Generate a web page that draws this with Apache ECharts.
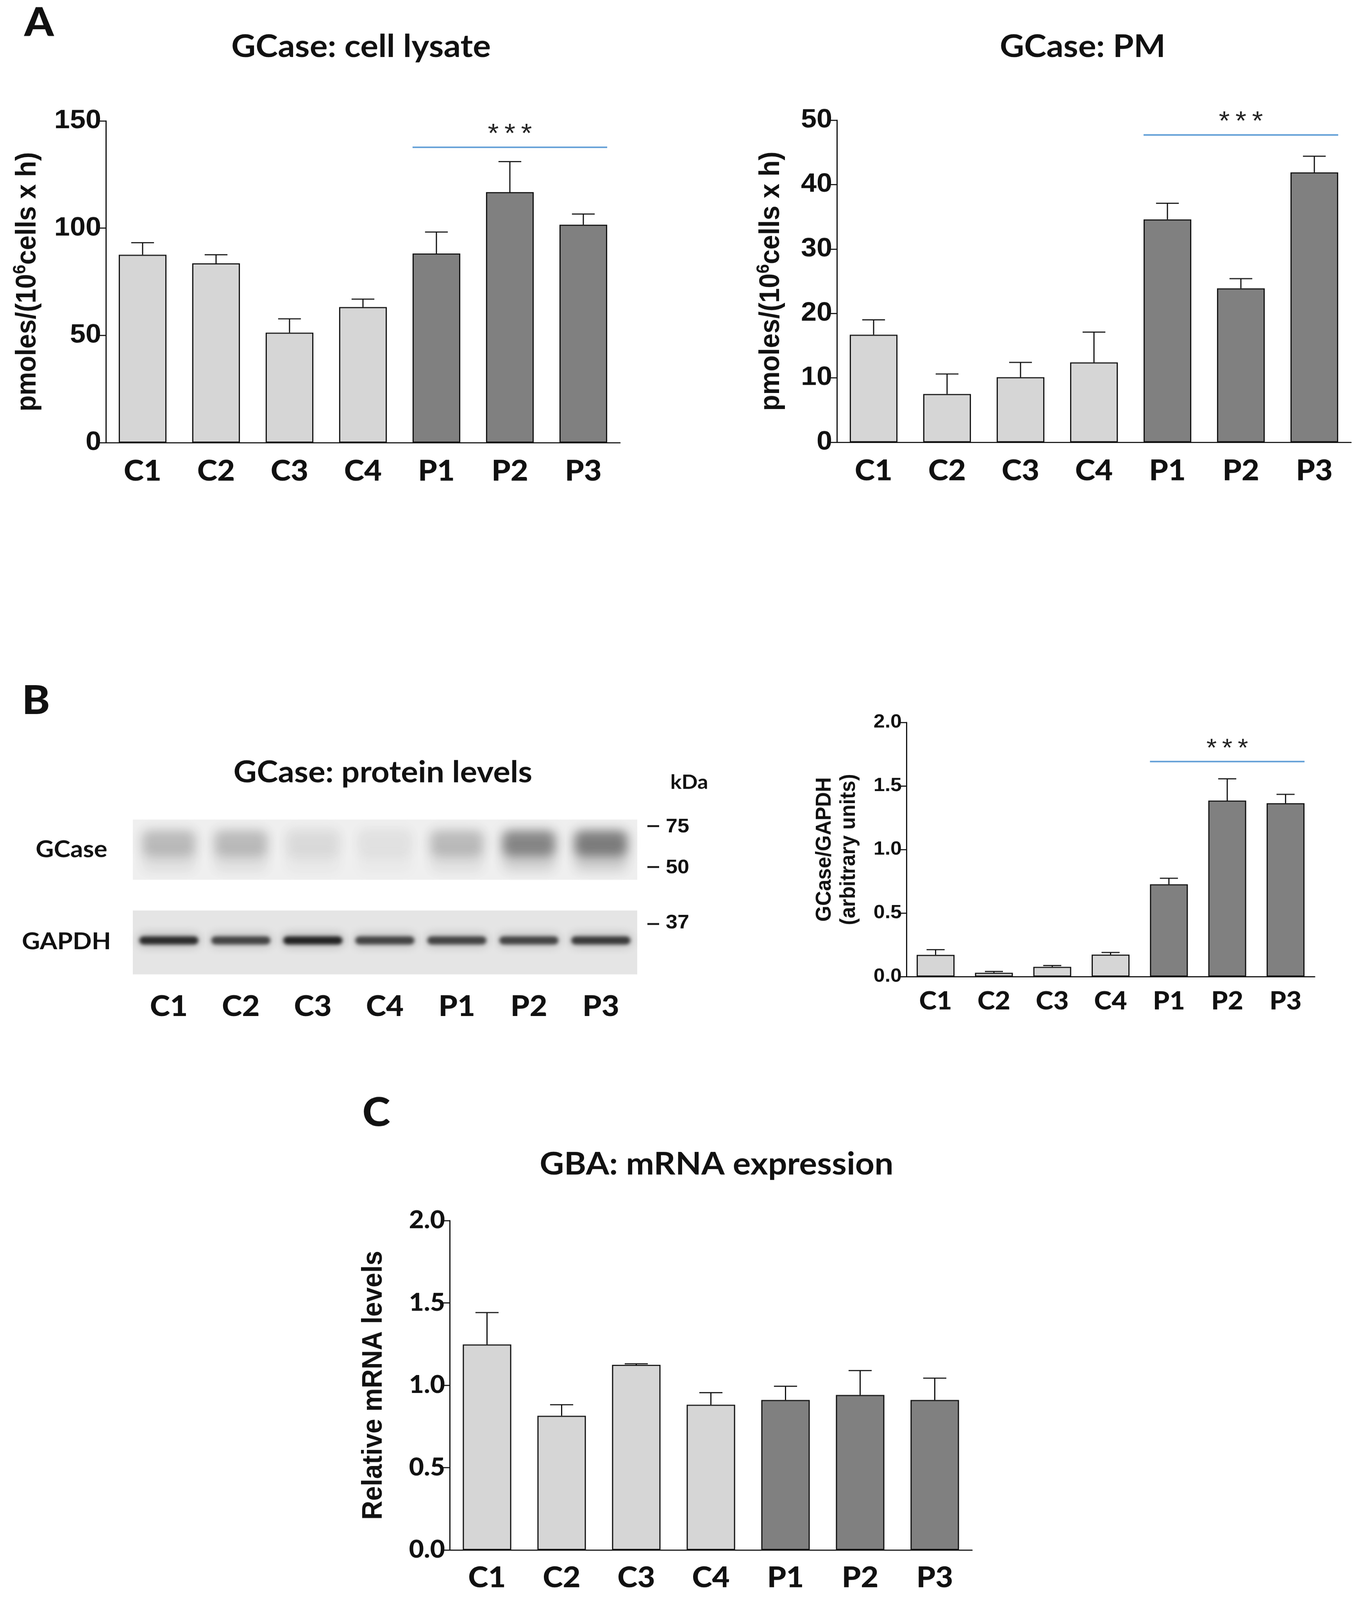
<!DOCTYPE html>
<html>
<head>
<meta charset="utf-8">
<script src="https://cdn.jsdelivr.net/npm/echarts@6.0.0/dist/echarts.min.js"></script>
<style>
html, body { margin: 0; padding: 0; background: #fff; overflow: hidden; }
#main { width: 3486px; height: 4381px; transform-origin: 0 0; }
</style>
</head>
<body>
<div id="main"></div>
<script>
// samples
const groups = ['C1', 'C2', 'C3', 'C4', 'P1', 'P2', 'P3'];

// A: GCase activity, cell lysate (mean, mean + SEM)
const lysateMean = [87.6, 83.6, 51.3, 63.2, 88.2, 116.8, 101.6];
const lysateTop = [93.2, 87.6, 57.7, 66.9, 98.2, 131.0, 106.6];

// A: GCase activity, plasma membrane
const pmMean = [16.7, 7.5, 10.1, 12.4, 34.6, 23.9, 41.9];
const pmTop = [19.0, 10.6, 12.4, 17.1, 37.1, 25.4, 44.4];

// B: GCase / GAPDH densitometry
const protMean = [0.171, 0.030, 0.077, 0.173, 0.726, 1.385, 1.364];
const protTop = [0.212, 0.040, 0.087, 0.190, 0.774, 1.556, 1.434];

// B: western blot band darkness (0..1)
const gcaseBand = [0.62, 0.62, 0.38, 0.3, 0.62, 0.88, 0.92];
const gapdhBand = [0.92, 0.85, 0.95, 0.85, 0.85, 0.85, 0.88];

// C: GBA mRNA
const mrnaMean = [1.248, 0.815, 1.124, 0.882, 0.911, 0.941, 0.911];
const mrnaTop = [1.441, 0.882, 1.130, 0.955, 0.994, 1.089, 1.043];

// significance bars: [from, to, level]
const sigLysate = [[4, 6, 137.7]];
const sigPM = [[4, 6, 47.7]];
const sigProt = [[4, 6, 1.692]];

const INK = '#111';
const LIGHT = '#d6d6d6';
const DARK = '#808080';
const ARIAL = '"Liberation Sans", Arial, sans-serif';
const CAL = 'Lato, "Open Sans", sans-serif';

// the window may be shorter than the figure: squeeze it to fit
var mainEl = document.getElementById('main');
var fit = Math.min(1, window.innerHeight / 4381);
if (fit < 1) mainEl.style.transform = 'scale(1,' + fit + ')';

var myChart = echarts.init(mainEl);

function barColor(p) {
  return p.dataIndex < 4 ? LIGHT : DARK;
}

function errRender(params, api) {
  var i = api.value(0);
  var base = api.coord([i, api.value(1)]);
  var top = api.coord([i, api.value(2)]);
  var cap = api.size([1, 0])[0] * 0.155;
  return {
    type: 'group',
    children: [
      { type: 'line', shape: { x1: base[0], y1: base[1], x2: top[0], y2: top[1] }, style: { stroke: INK, lineWidth: 3 } },
      { type: 'line', shape: { x1: top[0] - cap, y1: top[1], x2: top[0] + cap, y2: top[1] }, style: { stroke: INK, lineWidth: 3 } }
    ]
  };
}

function sigRender(params, api) {
  var a = api.coord([api.value(0), api.value(2)]);
  var b = api.coord([api.value(1), api.value(2)]);
  var half = api.size([1, 0])[0] * 0.65 / 2;
  var fs = params.seriesName === 'sigB' ? 68 : 72;
  return {
    type: 'group',
    children: [
      { type: 'line', shape: { x1: a[0] - half, y1: a[1], x2: b[0] + half, y2: a[1] }, style: { stroke: '#5b9bd5', lineWidth: 4 } },
      { type: 'text', style: { text: '*\u2009*\u2009*', x: (a[0] + b[0]) / 2, y: a[1] - 34, align: 'center', verticalAlign: 'middle', font: fs + 'px ' + ARIAL, fill: '#222' } }
    ]
  };
}

// soft blob: the shape sits off canvas, only its blurred shadow shows
var OFF = 6000;
function blob(x, y, w, h, color, blur) {
  return {
    type: 'rect',
    shape: { x: x - OFF, y: y, width: w, height: h, r: Math.min(h / 2, 20) },
    style: { fill: color, shadowColor: color, shadowBlur: blur, shadowOffsetX: OFF }
  };
}

// western blot lanes: membrane slice + blurred bands
function blotRender(params, api) {
  var cs = params.coordSys;
  var cx = api.coord([api.value(0), 0])[0];
  var lw = api.size([1, 0])[0];
  var g = api.value(1), h = api.value(2);
  var y0 = cs.y;
  var gc = function (a) { return 'rgba(55,55,55,' + Math.min(a, 1).toFixed(3) + ')'; };
  var kc = function (a) { return 'rgba(20,20,20,' + Math.min(a, 1).toFixed(3) + ')'; };
  return {
    type: 'group',
    children: [
      { type: 'rect', shape: { x: cx - lw / 2, y: y0, width: lw + 1, height: 165 }, style: { fill: '#efefef' } },
      { type: 'rect', shape: { x: cx - lw / 2, y: y0 + 249, width: lw + 1, height: 175 }, style: { fill: '#e5e5e5' } },
      blob(cx - lw * 0.42, y0 + 10, lw * 0.84, 145, gc(0.1), 36),
      blob(cx - lw * 0.37, y0 + 30, lw * 0.74, 70, gc(g * 0.85), 28),
      blob(cx - lw * 0.36, y0 + 88, lw * 0.72, 52, gc(g * 0.45), 30),
      blob(cx - lw * 0.43, y0 + 312, lw * 0.86, 36, kc(h * 0.5), 24),
      blob(cx - lw * 0.41, y0 + 320, lw * 0.82, 22, kc(h), 10)
    ]
  };
}

function catAxis(gi, fontSize, margin) {
  return {
    type: 'category', gridIndex: gi, data: groups, boundaryGap: true,
    axisLine: { lineStyle: { color: INK, width: 3 } },
    axisTick: { alignWithLabel: true, length: 24, lineStyle: { color: INK, width: 3 } },
    axisLabel: { margin: margin, color: INK, fontFamily: CAL, fontWeight: 900, fontSize: fontSize },
    splitLine: { show: false }
  };
}

function valAxis(gi, max, interval, label, extra) {
  var ax = {
    type: 'value', gridIndex: gi, min: 0, max: max, interval: interval,
    splitLine: { show: false },
    axisLine: { show: true, lineStyle: { color: INK, width: 3 } },
    axisTick: { show: true, length: 18, lineStyle: { color: INK, width: 3 } },
    axisLabel: Object.assign({ margin: 12, color: INK, fontWeight: 'bold' }, label),
    nameLocation: 'middle', nameRotate: 90
  };
  return Object.assign(ax, extra);
}

var supRich = function (size) {
  return {
    a: { fontSize: size, fontWeight: 'bold', fontFamily: ARIAL, color: INK, lineHeight: size + 12 },
    s: { fontSize: Math.round(size * 0.64), fontWeight: 'bold', fontFamily: ARIAL, color: INK, lineHeight: Math.round(size * 0.6), verticalAlign: 'top' }
  };
};

var option = {
  backgroundColor: '#fff',
  animation: false,
  grid: [
    { left: 271, top: 331, width: 1316, height: 881, outerBoundsMode: 'none' },
    { left: 2142, top: 329, width: 1316, height: 882, outerBoundsMode: 'none' },
    { left: 2320, top: 1978, width: 1045, height: 696, outerBoundsMode: 'none' },
    { left: 1151, top: 3342, width: 1337, height: 902, outerBoundsMode: 'none' },
    { left: 340, top: 2244, width: 1290, height: 424, outerBoundsMode: 'none' }
  ],
  xAxis: [
    catAxis(0, 78, 40),
    catAxis(1, 78, 40),
    catAxis(2, 68, 34),
    catAxis(3, 78, 38),
    {
      type: 'category', gridIndex: 4, data: groups,
      axisLine: { show: false }, axisTick: { show: false },
      axisLabel: { margin: 50, color: INK, fontFamily: CAL, fontWeight: 900, fontSize: 78 }
    }
  ],
  yAxis: [
    valAxis(0, 150, 50, { fontFamily: ARIAL, fontSize: 72 }, {
      name: '{a|pmoles/(10}{s|6}{a|cells x h)}', nameGap: 158,
      nameTextStyle: { rich: supRich(72) }
    }),
    valAxis(1, 50, 10, { fontFamily: ARIAL, fontSize: 72 }, {
      name: '{a|pmoles/(10}{s|6}{a|cells x h)}', nameGap: 126,
      nameTextStyle: { rich: supRich(72) }
    }),
    valAxis(2, 2, 0.5, { fontFamily: ARIAL, fontSize: 52, formatter: function (v) { return v.toFixed(1); } }, {
      name: 'GCase/GAPDH\n(arbitrary units)', nameGap: 116,
      nameTextStyle: { fontFamily: ARIAL, fontWeight: 'bold', fontSize: 56, color: INK, lineHeight: 62 }
    }),
    valAxis(3, 2, 0.5, { fontFamily: CAL, fontWeight: 900, fontSize: 66, formatter: function (v) { return v.toFixed(1); } }, {
      name: 'Relative mRNA levels', nameGap: 158,
      nameTextStyle: { fontFamily: ARIAL, fontWeight: 'bold', fontSize: 72, color: INK }
    }),
    { type: 'value', gridIndex: 4, min: 0, max: 1, show: false }
  ],
  series: [
    { type: 'bar', xAxisIndex: 0, yAxisIndex: 0, data: lysateMean, barWidth: '65%', itemStyle: { color: barColor, borderColor: INK, borderWidth: 3 } },
    { type: 'custom', xAxisIndex: 0, yAxisIndex: 0, renderItem: errRender, encode: { x: 0, y: [1, 2] }, z: 5,
      data: groups.map(function (g, i) { return [i, lysateMean[i], lysateTop[i]]; }) },
    { type: 'custom', name: 'sigA1', xAxisIndex: 0, yAxisIndex: 0, renderItem: sigRender, encode: { x: 0, y: 2 }, data: sigLysate, clip: false, z: 6 },

    { type: 'bar', xAxisIndex: 1, yAxisIndex: 1, data: pmMean, barWidth: '65%', itemStyle: { color: barColor, borderColor: INK, borderWidth: 3 } },
    { type: 'custom', xAxisIndex: 1, yAxisIndex: 1, renderItem: errRender, encode: { x: 0, y: [1, 2] }, z: 5,
      data: groups.map(function (g, i) { return [i, pmMean[i], pmTop[i]]; }) },
    { type: 'custom', name: 'sigA2', xAxisIndex: 1, yAxisIndex: 1, renderItem: sigRender, encode: { x: 0, y: 2 }, data: sigPM, clip: false, z: 6 },

    { type: 'bar', xAxisIndex: 2, yAxisIndex: 2, data: protMean, barWidth: '65%', itemStyle: { color: barColor, borderColor: INK, borderWidth: 3 } },
    { type: 'custom', xAxisIndex: 2, yAxisIndex: 2, renderItem: errRender, encode: { x: 0, y: [1, 2] }, z: 5,
      data: groups.map(function (g, i) { return [i, protMean[i], protTop[i]]; }) },
    { type: 'custom', name: 'sigB', xAxisIndex: 2, yAxisIndex: 2, renderItem: sigRender, encode: { x: 0, y: 2 }, data: sigProt, clip: false, z: 6 },

    { type: 'bar', xAxisIndex: 3, yAxisIndex: 3, data: mrnaMean, barWidth: '65%', itemStyle: { color: barColor, borderColor: INK, borderWidth: 3 } },
    { type: 'custom', xAxisIndex: 3, yAxisIndex: 3, renderItem: errRender, encode: { x: 0, y: [1, 2] }, z: 5,
      data: groups.map(function (g, i) { return [i, mrnaMean[i], mrnaTop[i]]; }) },

    { type: 'custom', xAxisIndex: 4, yAxisIndex: 4, renderItem: blotRender, encode: { x: 0, y: 1 }, clip: false,
      data: groups.map(function (g, i) { return [i, gcaseBand[i], gapdhBand[i]]; }) }
  ],
  graphic: [
    { type: 'text', x: 100, y: 64, style: { text: 'A', font: '900 108px ' + CAL, fill: INK, align: 'center', verticalAlign: 'middle' } },
    { type: 'text', x: 92, y: 1920, style: { text: 'B', font: '900 108px ' + CAL, fill: INK, align: 'center', verticalAlign: 'middle' } },
    { type: 'text', x: 963, y: 3048, style: { text: 'C', font: '900 108px ' + CAL, fill: INK, align: 'center', verticalAlign: 'middle' } },
    { type: 'text', x: 924, y: 128, style: { text: 'GCase: cell lysate', font: 'bold 86px ' + CAL, fill: INK, align: 'center', verticalAlign: 'middle' } },
    { type: 'text', x: 2771, y: 128, style: { text: 'GCase: PM', font: 'bold 86px ' + CAL, fill: INK, align: 'center', verticalAlign: 'middle' } },
    { type: 'text', x: 980, y: 2116, style: { text: 'GCase: protein levels', font: 'bold 82px ' + CAL, fill: INK, align: 'center', verticalAlign: 'middle' } },
    { type: 'text', x: 1834, y: 3188, style: { text: 'GBA: mRNA expression', font: 'bold 86px ' + CAL, fill: INK, align: 'center', verticalAlign: 'middle' } },
    { type: 'text', x: 183, y: 2326, style: { text: 'GCase', font: 'bold 64px ' + CAL, fill: INK, align: 'center', verticalAlign: 'middle' } },
    { type: 'text', x: 170, y: 2578, style: { text: 'GAPDH', font: 'bold 64px ' + CAL, fill: INK, align: 'center', verticalAlign: 'middle' } },
    { type: 'text', x: 1764, y: 2143, style: { text: 'kDa', font: 'bold 54px ' + CAL, fill: INK, align: 'center', verticalAlign: 'middle' } },
    { type: 'line', shape: { x1: 1657, y1: 2262, x2: 1687, y2: 2262 }, style: { stroke: INK, lineWidth: 5 } },
    { type: 'text', x: 1704, y: 2264, style: { text: '75', font: 'bold 54px ' + ARIAL, fill: INK, align: 'left', verticalAlign: 'middle' } },
    { type: 'line', shape: { x1: 1657, y1: 2374, x2: 1687, y2: 2374 }, style: { stroke: INK, lineWidth: 5 } },
    { type: 'text', x: 1704, y: 2376, style: { text: '50', font: 'bold 54px ' + ARIAL, fill: INK, align: 'left', verticalAlign: 'middle' } },
    { type: 'line', shape: { x1: 1657, y1: 2530, x2: 1687, y2: 2530 }, style: { stroke: INK, lineWidth: 5 } },
    { type: 'text', x: 1704, y: 2527, style: { text: '37', font: 'bold 54px ' + ARIAL, fill: INK, align: 'left', verticalAlign: 'middle' } }
  ]
};

myChart.setOption(option);
</script>
</body>
</html>
